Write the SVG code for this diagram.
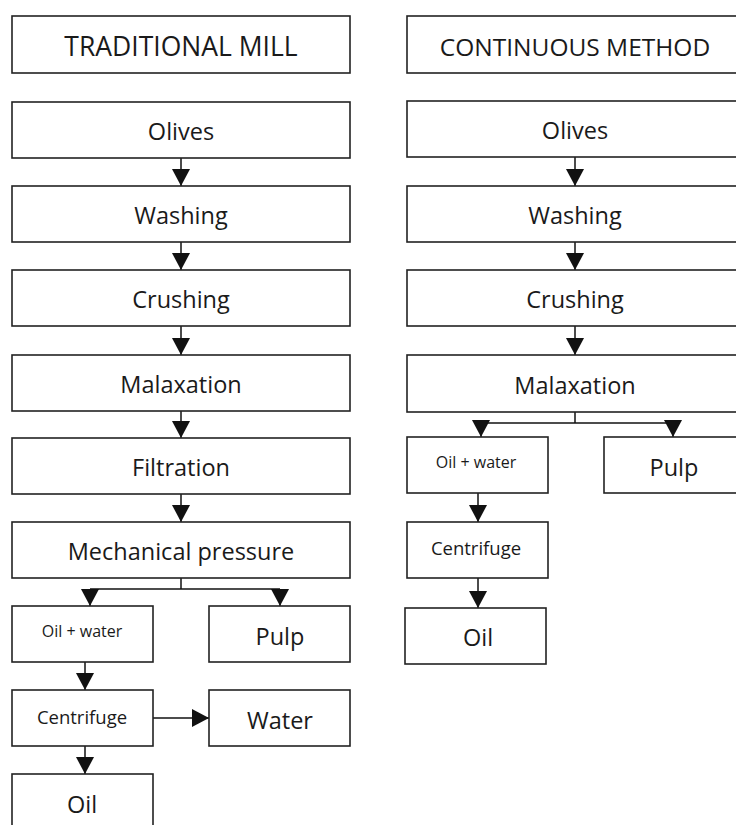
<svg xmlns="http://www.w3.org/2000/svg" width="736" height="825" viewBox="0 0 736 825">
<style>
.box{fill:#fff;stroke:#222;stroke-width:1.6}
.t{font-family:"Open Sans","Liberation Sans",sans-serif;fill:#1a1a1a;text-anchor:middle;dominant-baseline:central}
.l{font-size:23.5px}
.s{font-size:16px}
.c{stroke:#111;stroke-width:1.5;fill:none}
</style>
<defs>
<marker id="ah" markerUnits="userSpaceOnUse" markerWidth="17" markerHeight="18" viewBox="0 0 17 18" refX="17" refY="9" orient="auto">
<path d="M0,0 L17,9 L0,18 z" fill="#111"/>
</marker>
</defs>
<g id="connectors">
<line class="c" x1="181" y1="158" x2="181" y2="186" marker-end="url(#ah)"/>
<line class="c" x1="181" y1="242" x2="181" y2="270" marker-end="url(#ah)"/>
<line class="c" x1="181" y1="326" x2="181" y2="355" marker-end="url(#ah)"/>
<line class="c" x1="181" y1="411" x2="181" y2="438" marker-end="url(#ah)"/>
<line class="c" x1="181" y1="494" x2="181" y2="522" marker-end="url(#ah)"/>
<polyline class="c" points="181,578 181,589"/>
<polyline class="c" points="90,589 280,589"/>
<line class="c" x1="90" y1="589" x2="90" y2="606" marker-end="url(#ah)"/>
<line class="c" x1="280" y1="589" x2="280" y2="606" marker-end="url(#ah)"/>
<line class="c" x1="85" y1="662" x2="85" y2="690" marker-end="url(#ah)"/>
<line class="c" x1="85" y1="746" x2="85" y2="774" marker-end="url(#ah)"/>
<line class="c" x1="153" y1="718" x2="209" y2="718" marker-end="url(#ah)"/>
<line class="c" x1="575" y1="157" x2="575" y2="186" marker-end="url(#ah)"/>
<line class="c" x1="575" y1="242" x2="575" y2="270" marker-end="url(#ah)"/>
<line class="c" x1="575" y1="326" x2="575" y2="355" marker-end="url(#ah)"/>
<polyline class="c" points="575,412 575,423"/>
<polyline class="c" points="481,423 673,423"/>
<line class="c" x1="481" y1="423" x2="481" y2="437" marker-end="url(#ah)"/>
<line class="c" x1="673" y1="423" x2="673" y2="437" marker-end="url(#ah)"/>
<line class="c" x1="478" y1="493" x2="478" y2="522" marker-end="url(#ah)"/>
<line class="c" x1="478" y1="578" x2="478" y2="608" marker-end="url(#ah)"/>
</g>
<g id="tm-title"><rect class="box" x="12" y="16" width="338" height="57"/><text class="t" x="181" y="46" font-size="26.5">TRADITIONAL MILL</text></g>
<g id="tm-olives"><rect class="box" x="12" y="102" width="338" height="56"/><text class="t l" x="181" y="131">Olives</text></g>
<g id="tm-washing"><rect class="box" x="12" y="186" width="338" height="56"/><text class="t l" x="181" y="215">Washing</text></g>
<g id="tm-crushing"><rect class="box" x="12" y="270" width="338" height="56"/><text class="t l" x="181" y="299">Crushing</text></g>
<g id="tm-malaxation"><rect class="box" x="12" y="355" width="338" height="56"/><text class="t l" x="181" y="384">Malaxation</text></g>
<g id="tm-filtration"><rect class="box" x="12" y="438" width="338" height="56"/><text class="t l" x="181" y="467">Filtration</text></g>
<g id="tm-pressure"><rect class="box" x="12" y="522" width="338" height="56"/><text class="t l" x="181" y="551">Mechanical pressure</text></g>
<g id="tm-oilwater"><rect class="box" x="12" y="606" width="141" height="56"/><text class="t s" x="82" y="631">Oil + water</text></g>
<g id="tm-pulp"><rect class="box" x="209" y="606" width="141" height="56"/><text class="t l" x="280" y="636">Pulp</text></g>
<g id="tm-centrifuge"><rect class="box" x="12" y="690" width="141" height="56"/><text class="t" x="82" y="716" font-size="18.5">Centrifuge</text></g>
<g id="tm-water"><rect class="box" x="209" y="690" width="141" height="56"/><text class="t l" x="280" y="720">Water</text></g>
<g id="tm-oil"><rect class="box" x="12" y="774" width="141" height="60"/><text class="t l" x="82" y="804">Oil</text></g>
<g id="cm-title"><rect class="box" x="407" y="16" width="340" height="57"/><text class="t" x="575" y="46" font-size="24.5">CONTINUOUS METHOD</text></g>
<g id="cm-olives"><rect class="box" x="407" y="101" width="340" height="56"/><text class="t l" x="575" y="130">Olives</text></g>
<g id="cm-washing"><rect class="box" x="407" y="186" width="340" height="56"/><text class="t l" x="575" y="215">Washing</text></g>
<g id="cm-crushing"><rect class="box" x="407" y="270" width="340" height="56"/><text class="t l" x="575" y="299">Crushing</text></g>
<g id="cm-malaxation"><rect class="box" x="407" y="355" width="340" height="57"/><text class="t l" x="575" y="385">Malaxation</text></g>
<g id="cm-oilwater"><rect class="box" x="407" y="437" width="141" height="56"/><text class="t s" x="476" y="462">Oil + water</text></g>
<g id="cm-pulp"><rect class="box" x="604" y="437" width="140" height="56"/><text class="t l" x="674" y="467">Pulp</text></g>
<g id="cm-centrifuge"><rect class="box" x="407" y="522" width="141" height="56"/><text class="t" x="476" y="547" font-size="18.5">Centrifuge</text></g>
<g id="cm-oil"><rect class="box" x="405" y="608" width="141" height="56"/><text class="t l" x="478" y="637">Oil</text></g>
</svg>
